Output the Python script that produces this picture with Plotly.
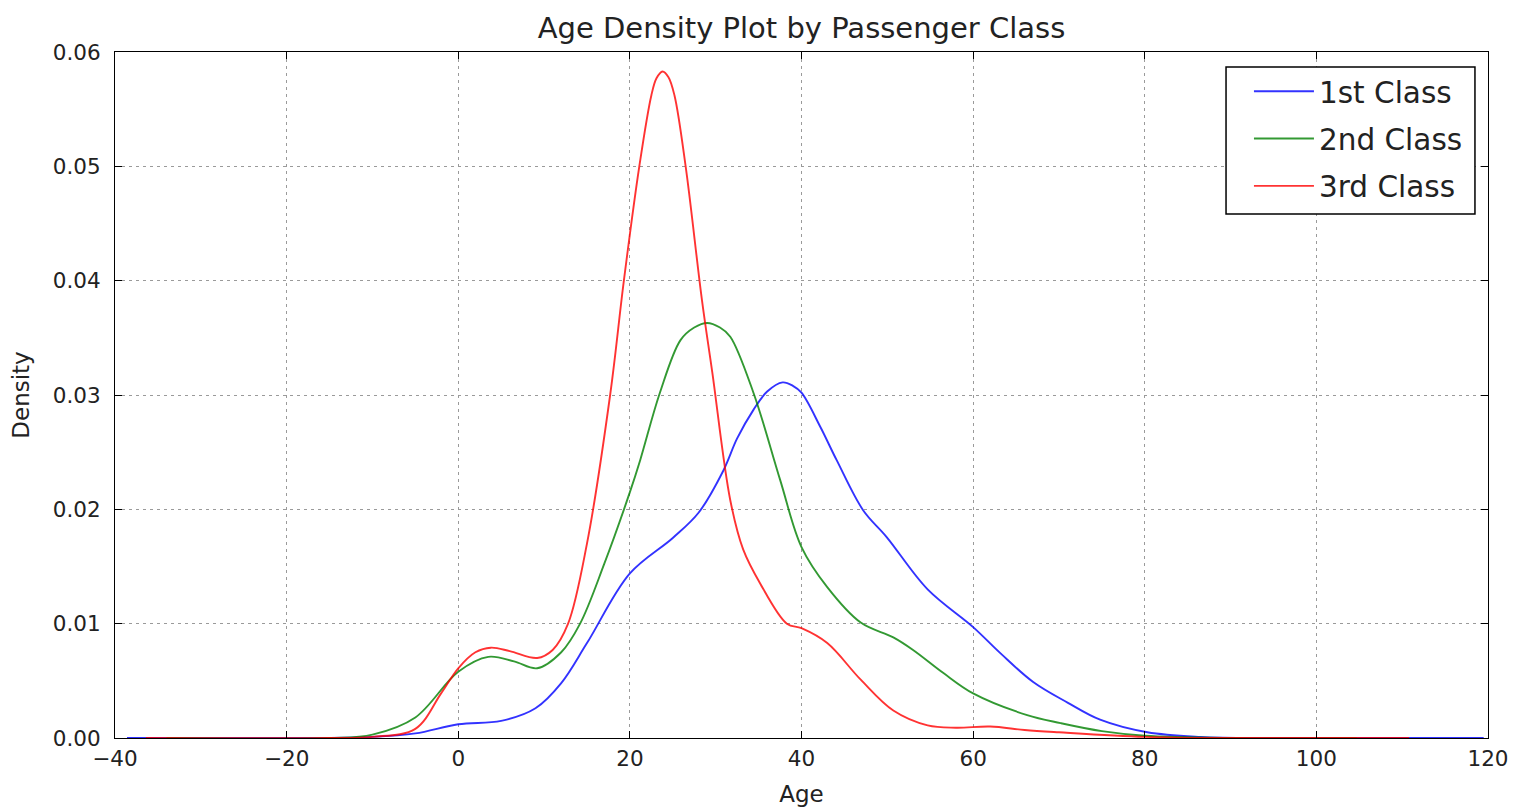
import plotly.graph_objects as go

# ---- data ----
age_1st = [-38.6, -20, -10, -5, 0, 5, 9, 12, 15, 20, 25, 28, 30.9, 32.5, 34.4, 36, 37.8, 39,
           40, 42.2, 44.1, 47.2, 49.9, 54.7, 60, 63.2, 67, 71, 74.8, 80.3, 86.5, 95, 119.5]
dens_1st = [0, 0, 0.0001, 0.0004, 0.0012, 0.0015, 0.0026, 0.0048, 0.0083, 0.0144, 0.0175,
            0.0197, 0.0234, 0.0262, 0.0287, 0.0303, 0.0311, 0.0308, 0.0302, 0.0272, 0.0243,
            0.0199, 0.0176, 0.0130, 0.0097, 0.0074, 0.0049, 0.0031, 0.0016, 0.0005, 0.0001,
            0, 0]

age_2nd = [-34, -15, -10, -5, 0, 3.5, 6.5, 9.2, 12, 14.2, 17, 20, 21.2, 23.5, 25.9, 27.5, 29,
           30.5, 31.7, 34.4, 37.5, 40, 43, 46.9, 50.7, 53, 56.5, 60, 66.3, 70.2, 75, 80, 90,
           104.7]
dens_2nd = [0, 0, 0.0003, 0.0018, 0.0058, 0.0071, 0.0067, 0.0061, 0.0075, 0.0100, 0.0152,
            0.0215, 0.0243, 0.0302, 0.0348, 0.0359, 0.0363, 0.0359, 0.0351, 0.0302, 0.0226,
            0.0167, 0.0132, 0.0101, 0.0088, 0.0077, 0.0057, 0.0039, 0.0020, 0.0013, 0.0006,
            0.0002, 0, 0]

age_3rd = [-36.4, -15, -10, -5, -2, 0, 2, 3.8, 6, 9.2, 11, 12.8, 15, 17.7, 19.3, 21.1, 22.5,
           23.1, 23.8, 24.5, 25.2, 26.5, 28.4, 29.6, 31.7, 33.2, 35.2, 38.3, 40, 43, 46.9,
           50.7, 54.7, 58, 62, 66, 70, 80, 90, 110.8]
dens_3rd = [0, 0, 0.0001, 0.0008, 0.0039, 0.0061, 0.0075, 0.0079, 0.0076, 0.0070, 0.0077,
            0.0100, 0.0170, 0.0300, 0.0400, 0.0500, 0.0562, 0.0577, 0.0583, 0.0578, 0.0562,
            0.0500, 0.0383, 0.0320, 0.0208, 0.0165, 0.0135, 0.0100, 0.0096, 0.0083, 0.0051,
            0.0024, 0.0011, 0.0009, 0.0010, 0.0007, 0.0005, 0.0001, 0, 0]

series = [
    ("1st Class", age_1st, dens_1st, "#0000ff"),
    ("2nd Class", age_2nd, dens_2nd, "#008000"),
    ("3rd Class", age_3rd, dens_3rd, "#ff0000"),
]

x_ticks = [-40, -20, 0, 20, 40, 60, 80, 100, 120]
y_ticks = [0.00, 0.01, 0.02, 0.03, 0.04, 0.05, 0.06]

FONT = "DejaVu Sans"

fig = go.Figure()
for name, xs, ys, col in series:
    fig.add_trace(go.Scatter(
        x=xs, y=ys, mode="lines", name=name, legendgroup=name,
        line=dict(color=col, width=1.9, shape="spline", smoothing=1.0),
        opacity=0.8,
    ))

axis_common = dict(
    showline=True, linecolor="black", linewidth=1.2, mirror="ticks",
    ticks="inside", ticklen=7, tickcolor="black", tickwidth=1,
    showgrid=True, gridcolor="#9a9a9a", gridwidth=1, griddash="3px,4px",
    zeroline=False, automargin=False,
    tickfont=dict(family=FONT, size=21.5, color="#222222"),
)

# legend frame (paper coordinates of the plot area)
fig.add_shape(type="rect", xref="paper", yref="paper",
              x0=0.8092, x1=0.9905, y0=0.7638, y1=0.9781,
              line=dict(color="black", width=1.5), fillcolor="white", layer="above")

fig.update_layout(
    width=1516, height=808,
    margin=dict(l=115, r=28, t=52, b=70),
    paper_bgcolor="white", plot_bgcolor="white",
    font=dict(family=FONT, color="#222222"),
    title=dict(text="Age Density Plot by Passenger Class", x=(115 + 1488) / 2 / 1516,
               xanchor="center", y=1 - 28 / 808, yanchor="middle",
               font=dict(family=FONT, size=29, color="#222222")),
    xaxis=dict(range=[-40, 120], tickvals=x_ticks, ticklabelstandoff=1,
               title=dict(text="Age", font=dict(family=FONT, size=23), standoff=15),
               **axis_common),
    yaxis=dict(range=[0, 0.06], tickvals=y_ticks, tickformat=".2f", ticklabelstandoff=9,
               title=dict(text="Density", font=dict(family=FONT, size=23), standoff=16),
               **axis_common),
    legend=dict(x=0.9854, xanchor="right", y=0.9803, yanchor="top",
                bgcolor="rgba(0,0,0,0)", borderwidth=0,
                font=dict(family=FONT, size=29.5, color="#222222"),
                itemwidth=60, tracegroupgap=6),
    showlegend=True,
)

fig.write_html("out.html")
